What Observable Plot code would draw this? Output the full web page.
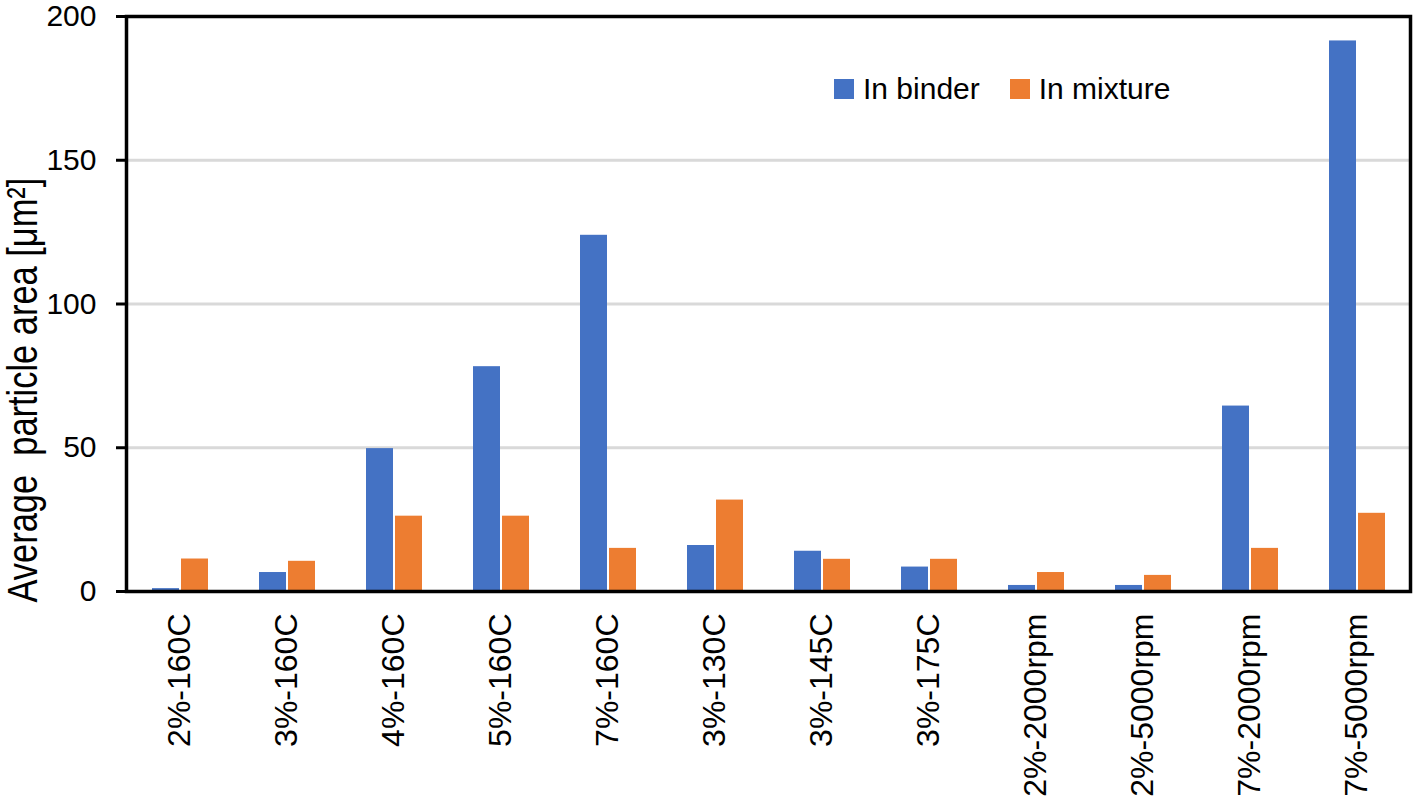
<!DOCTYPE html>
<html>
<head>
<meta charset="utf-8">
<script src="https://cdn.jsdelivr.net/npm/d3@7"></script>
<script src="https://cdn.jsdelivr.net/npm/@observablehq/plot@0.6"></script>
<style>
  html, body { margin: 0; padding: 0; background: #fff; }
  #wrap { position: relative; width: 1424px; height: 796px; font-family: "Liberation Sans", Arial, sans-serif; }
  #legend { position: absolute; left: 834px; top: 72px; display: flex; align-items: center; font-size: 30px; color: #000; }
  .sw { width: 20px; height: 20px; display: inline-block; margin-right: 9px; }
  .item { display: flex; align-items: center; margin-right: 30px; }
</style>
</head>
<body>
<div id="wrap"></div>
<script>
const categories = ["2%-160C","3%-160C","4%-160C","5%-160C","7%-160C","3%-130C","3%-145C","3%-175C","2%-2000rpm","2%-5000rpm","7%-2000rpm","7%-5000rpm"];
const seriesNames = ["In binder","In mixture"];
const inBinder  = [1.0, 6.6, 49.7, 78.2, 123.9, 16.0, 14.0, 8.5, 2.1, 2.1, 64.5, 191.5];
const inMixture = [11.3, 10.5, 26.2, 26.2, 15.0, 31.8, 11.2, 11.2, 6.6, 5.6, 15.0, 27.2];
const colors = ["#4472C4", "#ED7D31"];
const yTicks = [0, 50, 100, 150, 200];
const gridTicks = [50, 100, 150];
const yLabel = "Average\u00a0 particle area [μm²]";

const data = [];
categories.forEach((c, i) => {
  data.push({category: c, series: seriesNames[0], value: inBinder[i]});
  data.push({category: c, series: seriesNames[1], value: inMixture[i]});
});

const chart = Plot.plot({
  width: 1424,
  height: 796,
  marginLeft: 121,
  marginRight: 9,
  marginTop: 16,
  marginBottom: 205,
  facet: {marginLeft: 0, marginRight: 0, marginTop: 0, marginBottom: 0},
  style: {fontFamily: "'Liberation Sans', Arial, sans-serif", fontSize: "30px", color: "#000", background: "#fff"},
  fx: {domain: categories, paddingInner: 0, paddingOuter: 0, label: null, axis: null},
  x: {domain: seriesNames, paddingInner: 0.08, paddingOuter: 0.85, axis: null},
  y: {domain: [0, 200], label: null, axis: null},
  color: {domain: seriesNames, range: colors},
  marks: [
    Plot.ruleY(gridTicks, {y: d => d, stroke: "#d9d9d9", strokeWidth: 3}),
    Plot.barY(data, {fx: "category", x: "series", y: "value", fill: "series"}),
    Plot.axisY({ticks: yTicks, tickSize: 10, tickPadding: 20, strokeWidth: 3, fontSize: 30, label: null}),
    Plot.axisFx({anchor: "bottom", tickSize: 0, tickRotate: -90, tickPadding: 22, fontSize: 32, label: null}),
    Plot.text([yLabel], {text: d => d, frameAnchor: "bottom-left", rotate: -90, textAnchor: "start", lineAnchor: "middle",
      dx: -103, dy: 11, fontSize: 42, facet: "super"}),
    Plot.frame({stroke: "#000", strokeWidth: 3.5, facet: "super"})
  ]
});

// condense the y-axis title horizontally, as in the reference
d3.select(chart).selectAll("text").filter(function() { return this.textContent === yLabel; })
  .each(function() {
    const t = this.getAttribute("transform") || "";
    this.setAttribute("transform", t + " scale(0.82,1)");
  });

const wrap = document.getElementById("wrap");
wrap.appendChild(chart);
const legend = document.createElement("div");
legend.id = "legend";
seriesNames.forEach((s, i) => {
  const it = document.createElement("div");
  it.className = "item";
  const sw = document.createElement("span");
  sw.className = "sw";
  sw.style.background = colors[i];
  const t = document.createElement("span");
  t.textContent = s;
  it.appendChild(sw); it.appendChild(t);
  legend.appendChild(it);
});
wrap.appendChild(legend);
</script>
</body>
</html>
